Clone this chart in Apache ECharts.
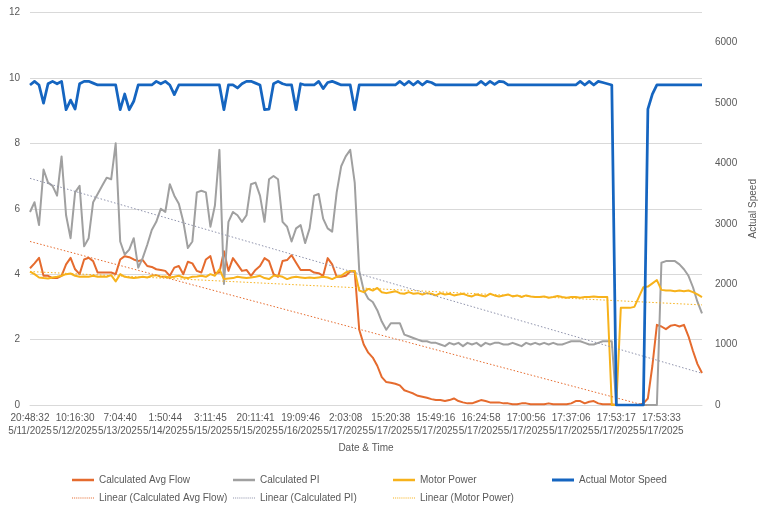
<!DOCTYPE html>
<html><head><meta charset="utf-8">
<script src="https://cdn.jsdelivr.net/npm/echarts@6/dist/echarts.min.js"></script>
<style>html,body{margin:0;padding:0;background:#fff}#c{width:759px;height:505px}</style>
</head><body><div id="c"></div>
<script>
// Tick labels shown every 10th category
const tickLabels = [
  '20:48:32\n5/11/2025','10:16:30\n5/12/2025','7:04:40\n5/13/2025','1:50:44\n5/14/2025',
  '3:11:45\n5/15/2025','20:11:41\n5/15/2025','19:09:46\n5/16/2025','2:03:08\n5/17/2025',
  '15:20:38\n5/17/2025','15:49:16\n5/17/2025','16:24:58\n5/17/2025','17:00:56\n5/17/2025',
  '17:37:06\n5/17/2025','17:53:17\n5/17/2025','17:53:33\n5/17/2025'
];
const labelEvery = 10;

const avgFlow = [
  4.18,4.33,4.5,3.95,3.95,3.88,3.88,3.95,4.3,4.5,
  4.15,4.0,4.45,4.5,4.4,4.05,4.05,4.05,4.05,4.0,
  4.45,4.55,4.52,4.45,4.4,4.43,4.25,4.22,4.15,4.13,
  4.1,3.95,4.2,4.25,4.0,4.38,4.33,4.1,4.05,4.45,
  4.55,4.03,4.05,4.7,4.1,4.49,4.3,4.1,4.13,3.95,
  4.13,4.25,4.49,4.4,4.0,3.92,4.4,4.43,4.58,4.35,
  4.13,4.13,4.13,4.05,4.03,3.95,4.49,4.3,3.92,3.92,
  3.95,4.08,4.08,2.3,1.85,1.6,1.45,1.2,0.85,0.7,
  0.68,0.65,0.6,0.45,0.4,0.35,0.28,0.25,0.22,0.18,
  0.15,0.15,0.12,0.15,0.2,0.12,0.08,0.05,0.05,0.1,
  0.15,0.12,0.08,0.08,0.08,0.05,0.05,0.02,0.02,0.05,
  0.05,0.02,0.02,0.02,0.02,0.05,0.02,0.02,0.02,0.02,
  0.05,0.12,0.12,0.05,0.1,0.12,0.05,0.02,0.02,0.02,
  0,0,0,0,0,0,0.05,0.2,1.2,2.45,
  2.4,2.32,2.42,2.45,2.4,2.45,2.1,1.65,1.25,0.98
];
const calcPI = [
  5.9,6.2,5.5,7.2,6.8,6.7,6.4,7.6,5.8,5.1,
  6.5,6.7,4.85,5.1,6.2,6.45,6.7,6.95,6.9,8.0,
  5.0,4.6,4.75,5.1,4.2,4.5,4.9,5.35,5.6,6.0,
  5.9,6.75,6.4,6.15,5.6,4.8,5.0,6.5,6.55,6.5,
  5.45,6.1,7.8,3.7,5.6,5.9,5.8,5.6,5.8,6.75,
  6.8,6.4,5.6,6.9,7.0,6.9,5.6,5.45,5.0,5.4,
  5.5,4.95,5.4,6.4,6.45,5.7,5.4,5.3,6.5,7.3,
  7.6,7.8,6.8,4.1,3.5,3.25,3.15,2.9,2.55,2.3,
  2.5,2.5,2.5,2.15,2.1,2.05,2.0,1.95,1.95,1.9,
  1.9,1.85,1.8,1.9,1.85,1.9,1.8,1.9,1.85,1.9,
  1.8,1.9,1.85,1.9,1.9,1.85,1.85,1.9,1.85,1.8,
  1.9,1.85,1.9,1.85,1.9,1.85,1.9,1.85,1.85,1.9,
  1.95,1.95,1.95,1.9,1.85,1.85,1.9,1.95,1.95,1.95,
  0,0,0,0,0,0,0,0,0,0,
  4.35,4.4,4.4,4.4,4.3,4.15,3.95,3.6,3.15,2.8
];
const motorPower = [
  4.08,4.0,3.9,3.88,3.87,3.9,3.92,3.95,4.0,4.02,
  3.95,3.92,3.93,3.92,3.95,3.92,3.93,3.92,3.97,3.78,
  4.0,3.92,3.9,3.88,3.9,3.92,3.9,3.95,3.97,3.92,
  3.93,3.9,3.92,3.95,3.9,3.88,3.92,3.93,3.95,3.92,
  4.0,3.95,4.15,3.85,3.87,3.88,3.92,3.9,3.88,3.9,
  3.92,3.95,3.88,3.85,3.95,3.95,3.92,3.85,3.9,3.92,
  3.9,3.88,3.9,3.88,3.9,3.92,3.9,3.85,3.92,3.95,
  4.05,4.1,4.1,3.5,3.45,3.55,3.5,3.58,3.45,3.42,
  3.45,3.48,3.42,3.4,3.45,3.4,3.42,3.38,3.42,3.4,
  3.35,3.42,3.38,3.4,3.35,3.38,3.4,3.35,3.32,3.38,
  3.35,3.32,3.4,3.35,3.32,3.35,3.38,3.32,3.35,3.3,
  3.35,3.32,3.3,3.3,3.32,3.28,3.3,3.33,3.3,3.28,
  3.3,3.3,3.28,3.3,3.3,3.32,3.3,3.3,3.3,0,
  0,2.97,2.97,2.97,3.0,3.3,3.6,3.62,3.72,3.82,
  3.52,3.5,3.5,3.48,3.5,3.48,3.5,3.45,3.38,3.3
];
const motorSpeed = [
  5300,5360,5300,5000,5320,5360,5320,5360,4890,5050,
  4900,5320,5360,5360,5330,5300,5300,5300,5300,5300,
  4890,5150,4890,5030,5300,5300,5300,5300,5360,5320,
  5360,5300,5140,5300,5300,5300,5300,5300,5300,5300,
  5300,5300,5300,4890,5300,5300,5250,5320,5360,5360,
  5330,5300,4890,4900,5320,5360,5320,5300,5300,4890,
  5320,5300,5300,5300,5360,5240,5340,5360,5330,5300,
  5300,5300,4890,5300,5300,5300,5300,5300,5300,5300,
  5300,5300,5360,5300,5360,5300,5360,5300,5360,5340,
  5300,5300,5300,5300,5300,5300,5300,5300,5300,5300,
  5360,5300,5360,5310,5360,5350,5300,5300,5300,5300,
  5300,5300,5300,5300,5300,5300,5300,5300,5300,5300,
  5300,5300,5360,5300,5360,5300,5360,5340,5320,5300,
  0,0,0,0,0,0,0,4900,5150,5300,
  5300,5300,5300,5300,5300,5300,5300,5300,5300,5300
];
// Linear trendlines: [value at first category, value at last category]
const trendFlow = [5.0, -0.48];
const trendPI = [6.93, 0.97];
const trendPower = [4.08, 3.06];

const N = avgFlow.length;
const categories = avgFlow.map((_, i) => String(i));
const trendData = t => [[0, t[0]], [N - 1, t[1]]];

const C = {flow:'#E56B2E', pi:'#A0A0A0', power:'#F7B21B', speed:'#1565C0', piTrend:'#8F93AC'};
const FONT = "'Liberation Sans', Arial, sans-serif";
const TXT = '#595959';

const dotPath = 'path://' + Array.from({length: 11}, (_, k) => `M${k*2},0h1v1h-1z`).join(' ');

function legendAt(name, left, top, color, dotted, h) {
  return {
    data: [name], left: left, top: top, icon: dotted ? dotPath : 'rect',
    itemWidth: 22, itemHeight: dotted ? 1.5 : h, itemGap: 0,
    textStyle: {fontFamily: FONT, fontSize: 10, color: TXT},
    itemStyle: {color: color}, selectedMode: false
  };
}

const chart = echarts.init(document.getElementById('c'), null, {renderer: 'canvas'});
chart.setOption({
  animation: false,
  backgroundColor: '#fff',
  grid: {left: 30, right: 57, top: 12.5, bottom: 100, containLabel: false, outerBoundsMode: 'none'},
  legend: [
    legendAt('Calculated Avg Flow', 67, 470, C.flow, false, 2.5),
    legendAt('Calculated PI', 228, 470, C.pi, false, 2.5),
    legendAt('Motor Power', 388, 470, C.power, false, 2.5),
    legendAt('Actual Motor Speed', 547, 470, C.speed, false, 3),
    legendAt('Linear (Calculated Avg Flow)', 67, 488, C.flow, true),
    legendAt('Linear (Calculated PI)', 228, 488, C.piTrend, true),
    legendAt('Linear (Motor Power)', 388, 488, C.power, true)
  ],
  xAxis: {
    type: 'category', data: categories, boundaryGap: false,
    name: 'Date & Time', nameLocation: 'middle', nameGap: 35,
    nameTextStyle: {fontFamily: FONT, fontSize: 10, color: TXT},
    axisLine: {lineStyle: {color: '#d9d9d9'}},
    axisTick: {show: false},
    axisLabel: {
      interval: labelEvery - 1, margin: 7, fontFamily: FONT, fontSize: 10, color: TXT, lineHeight: 13,
      formatter: (v, idx) => tickLabels[Math.round(idx / labelEvery)] || ''
    },
    splitLine: {show: false}
  },
  yAxis: [
    {
      type: 'value', min: 0, max: 12, interval: 2,
      axisLine: {show: false}, axisTick: {show: false},
      axisLabel: {margin: 10, fontFamily: FONT, fontSize: 10, color: TXT},
      splitLine: {lineStyle: {color: '#d9d9d9', width: 1}}
    },
    {
      type: 'value', min: 0, max: 6500, interval: 1000, position: 'right',
      name: 'Actual Speed', nameLocation: 'middle', nameGap: 37, nameRotate: 90,
      nameTextStyle: {fontFamily: FONT, fontSize: 10, color: TXT},
      axisLine: {show: false}, axisTick: {show: false},
      axisLabel: {margin: 13, fontFamily: FONT, fontSize: 10, color: TXT, showMaxLabel: false,
                  formatter: v => String(v)},
      splitLine: {show: false}
    }
  ],
  series: [
    {name: 'Calculated Avg Flow', type: 'line', yAxisIndex: 0, data: avgFlow, symbol: 'none',
     lineStyle: {color: C.flow, width: 2, join: 'round'}, itemStyle: {color: C.flow}, z: 3},
    {name: 'Calculated PI', type: 'line', yAxisIndex: 0, data: calcPI, symbol: 'none',
     lineStyle: {color: C.pi, width: 2, join: 'round'}, itemStyle: {color: C.pi}, z: 3},
    {name: 'Motor Power', type: 'line', yAxisIndex: 0, data: motorPower, symbol: 'none',
     lineStyle: {color: C.power, width: 2, join: 'round'}, itemStyle: {color: C.power}, z: 3},
    {name: 'Linear (Calculated Avg Flow)', type: 'line', yAxisIndex: 0, data: trendData(trendFlow), symbol: 'none',
     lineStyle: {color: C.flow, width: 1, type: [1.5, 2]}, itemStyle: {color: C.flow}, z: 4},
    {name: 'Linear (Calculated PI)', type: 'line', yAxisIndex: 0, data: trendData(trendPI), symbol: 'none',
     lineStyle: {color: C.piTrend, width: 1, type: [1.5, 2]}, itemStyle: {color: C.piTrend}, z: 4},
    {name: 'Linear (Motor Power)', type: 'line', yAxisIndex: 0, data: trendData(trendPower), symbol: 'none',
     lineStyle: {color: C.power, width: 1, type: [1.5, 2]}, itemStyle: {color: C.power}, z: 4},
    {name: 'Actual Motor Speed', type: 'line', yAxisIndex: 1, data: motorSpeed, symbol: 'none',
     lineStyle: {color: C.speed, width: 2.75, join: 'round'}, itemStyle: {color: C.speed}, z: 5}
  ]
});
</script>
</body></html>
